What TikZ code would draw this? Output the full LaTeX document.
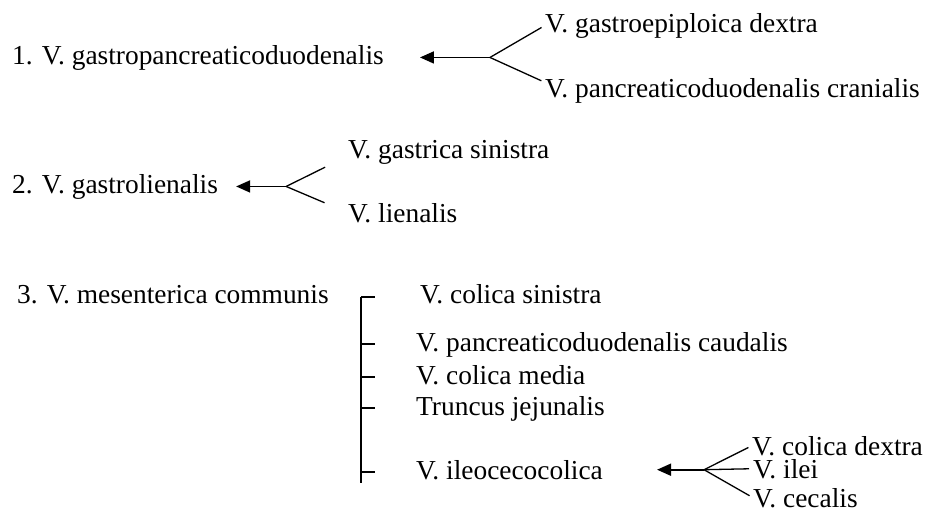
\documentclass[tikz,border=0pt]{standalone}
\usepackage{fontspec}
\setmainfont{Liberation Serif}
\usetikzlibrary{arrows.meta,positioning,calc}

\begin{document}
\begin{tikzpicture}[
    x=1pt, y=-1pt,
    vein/.style={anchor=base west, inner sep=0pt, font=\fontsize{27.4}{32}\selectfont},
    arrow/.style={-{Triangle[length=14pt,width=12pt]}, line width=1.8pt},
    branch/.style={line width=1.3pt, shorten >=4pt},
    bar/.style={line width=2pt},
    tick/.style={line width=1.3pt}
]
    \useasboundingbox (0,0) rectangle (932,512);

    % Group 1
    \node[vein] (g1) at (12,64) {1. V. gastropancreaticoduodenalis};
    \node[vein] (g1a) at (545,32) {V. gastroepiploica dextra};
    \node[vein] (g1b) at (545,97) {V. pancreaticoduodenalis cranialis};
    \coordinate (f1) at ([xshift=106pt]g1.east);
    \draw[arrow, shorten >=36pt] (f1) -- (g1.east);
    \draw[branch] (f1) -- (g1a.west);
    \draw[branch] (f1) -- ([yshift=8pt]g1b.west);

    % Group 2
    \node[vein] (g2) at (12,193) {2. V. gastrolienalis};
    \node[vein] (g2a) at (348,158) {V. gastrica sinistra};
    \node[vein] (g2b) at (348,222) {V. lienalis};
    \coordinate (f2) at ([xshift=68pt]g2.east);
    \draw[arrow, shorten >=18pt] (f2) -- (g2.east);
    \draw[branch, shorten >=25.5pt] (f2) -- ([yshift=-4pt]g2a.west);
    \draw[branch, shorten >=25.5pt] (f2) -- (g2b.west);

    % Group 3
    \node[vein] (g3) at (17,303) {3. V. mesenterica communis};
    \node[vein] (m1) at (420,303) {V. colica sinistra};
    \node[vein] (m2) at (416,351) {V. pancreaticoduodenalis caudalis};
    \node[vein] (m3) at (416,384) {V. colica media};
    \node[vein] (m4) at (416,415) {Truncus jejunalis};
    \node[vein] (m5) at (416,479) {V. ileocecocolica};

    % Bracket
    \coordinate (bartop) at (361,297);
    \coordinate (barbot) at (361,483);
    \draw[bar] (bartop) -- (barbot);
    \draw[tick] (bartop) -- ++(14,0);
    \draw[tick] ($(bartop |- m2.base)+(0,-7)$) -- ++(14,0);
    \draw[tick] ($(bartop |- m3.base)+(0,-7)$) -- ++(14,0);
    \draw[tick] ($(bartop |- m4.base)+(0,-7)$) -- ++(14,0);
    \draw[tick] ($(bartop |- m5.base)+(0,-7)$) -- ++(14,0);

    % Ileocecocolica branches
    \node[vein] (r1) at (752,455) {V. colica dextra};
    \node[vein] (r2) at (753,478) {V. ilei};
    \node[vein] (r3) at (753,507) {V. cecalis};
    \coordinate (f3) at ([xshift=101pt]m5.east);
    \draw[arrow, shorten >=54pt] (f3) -- (m5.east);
    \draw[branch] (f3) -- (r1.west);
    \draw[branch] (f3) -- (r2.west);
    \draw[branch] (f3) -- (r3.west);
\end{tikzpicture}
\end{document}
